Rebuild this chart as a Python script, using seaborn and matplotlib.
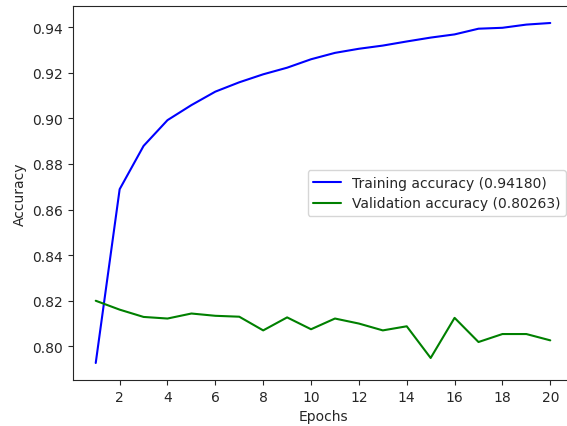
import matplotlib
matplotlib.use("Agg")
import matplotlib.pyplot as plt
import seaborn as sns
import pandas as pd

# Per-epoch accuracy history
epochs = list(range(1, 21))
train_acc = [0.7927, 0.8689, 0.8879, 0.8992, 0.9058, 0.9117, 0.9158, 0.9193,
             0.9222, 0.9259, 0.9287, 0.9305, 0.9319, 0.9337, 0.9354, 0.9368,
             0.9393, 0.9397, 0.9411, 0.94180]
val_acc = [0.8200, 0.8161, 0.8129, 0.8122, 0.8144, 0.8134, 0.8130, 0.8070,
           0.8127, 0.8075, 0.8122, 0.8100, 0.8070, 0.8088, 0.7949, 0.8125,
           0.8019, 0.8054, 0.8054, 0.80263]

sns.set_style("ticks")
plt.rcParams["font.family"] = ["DejaVu Sans"]

train_label = f"Training accuracy ({train_acc[-1]:.5f})"
val_label = f"Validation accuracy ({val_acc[-1]:.5f})"

df = pd.DataFrame({
    "Epochs": epochs * 2,
    "Accuracy": train_acc + val_acc,
    "series": [train_label] * len(epochs) + [val_label] * len(epochs),
})

fig = plt.figure(figsize=(5.67, 4.27), dpi=100)
# axes run slightly past the right edge of the canvas
ax = fig.add_axes([73 / 567, 1 - 381 / 427, 500 / 567, 374 / 427])

sns.lineplot(data=df, x="Epochs", y="Accuracy", hue="series",
             palette={train_label: "blue", val_label: "green"},
             linewidth=1.5, ax=ax)

ax.set_xticks(range(2, 21, 2))
ax.set_yticks([0.80, 0.82, 0.84, 0.86, 0.88, 0.90, 0.92, 0.94])
ax.set_yticklabels([f"{v:.2f}" for v in ax.get_yticks()])
ax.set_xlabel("Epochs")
ax.set_ylabel("Accuracy")
ax.spines["right"].set_visible(False)
ax.legend(loc="center right", title=None)

fig.savefig("out.png", dpi=100)
